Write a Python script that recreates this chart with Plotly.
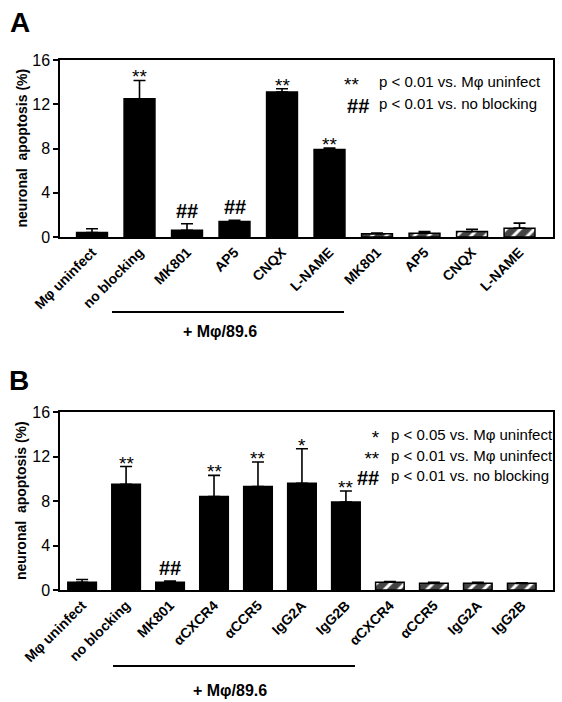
import plotly.graph_objects as go

# ---------------- data ----------------
a_labels = ["Mφ uninfect", "no blocking", "MK801", "AP5", "CNQX", "L-NAME",
            "MK801", "AP5", "CNQX", "L-NAME"]
a_values = [0.4, 12.5, 0.6, 1.4, 13.1, 7.9, 0.3, 0.35, 0.5, 0.8]
a_errors = [0.35, 1.65, 0.6, 0.1, 0.3, 0.15, 0.05, 0.15, 0.2, 0.45]
a_hatched = [False, False, False, False, False, False, True, True, True, True]
a_marks = ["", "**", "##", "##", "**", "**", "", "", "", ""]

b_labels = ["Mφ uninfect", "no blocking", "MK801", "αCXCR4", "αCCR5", "IgG2A", "IgG2B",
            "αCXCR4", "αCCR5", "IgG2A", "IgG2B"]
b_values = [0.7, 9.5, 0.7, 8.4, 9.3, 9.6, 7.9, 0.7, 0.6, 0.6, 0.6]
b_errors = [0.25, 1.6, 0.1, 1.9, 2.2, 3.1, 1.0, 0.05, 0.1, 0.1, 0.05]
b_hatched = [False] * 7 + [True] * 4
b_marks = ["", "**", "##", "**", "**", "*", "**", "", "", "", ""]

y_ticks = [0, 4, 8, 12, 16]
legend_a_syms = ["**\u00a0\u00a0", "##"]
legend_a_text = ["p < 0.01 vs. Mφ uninfect", "p < 0.01 vs. no blocking"]
legend_b_syms = ["*", "**", "##"]
legend_b_text = ["p < 0.05 vs. Mφ uninfect", "p < 0.01 vs. Mφ uninfect",
                 "p < 0.01 vs. no blocking"]
group_label = "+ Mφ/89.6"

# ---------------- layout helpers ----------------
W, H = 562, 702
FONT = "Liberation Sans, Arial, Helvetica, sans-serif"


def px(x):
    return x / W


def py(y):
    return 1 - y / H


fig = go.Figure()

STAR_FONT = dict(size=19, family=FONT, color="black")
HASH_FONT = dict(size=20, family=FONT, color="black", weight="bold")


def add_panel(labels, values, errors, hatched, marks, xa, ya):
    idx = list(range(len(labels)))
    fig.add_trace(go.Bar(
        x=idx, y=values,
        xaxis=xa, yaxis=ya,
        width=0.65,
        marker=dict(
            color=["white" if h else "black" for h in hatched],
            line=dict(color="black", width=1.5),
            pattern=dict(shape=["/" if h else "" for h in hatched],
                         fgcolor="black", bgcolor="white", fgopacity=1,
                         size=10, solidity=0.7),
        ),
        error_y=dict(type="data", symmetric=False, array=errors,
                     arrayminus=[0] * len(errors), color="black",
                     thickness=1.6, width=6),
        showlegend=False,
    ))
    xref = "x" if xa == "x" else "x2"
    yref = "y" if ya == "y" else "y2"
    for i, (v, e, m) in enumerate(zip(values, errors, marks)):
        if not m:
            continue
        if m.startswith("#"):
            fig.add_annotation(x=i, y=v + e, xref=xref, yref=yref, text="<b>" + m + "</b>",
                               showarrow=False, xanchor="center", yanchor="bottom", yshift=0,
                               font=HASH_FONT)
        else:
            fig.add_annotation(x=i, y=v + e, xref=xref, yref=yref, text=m,
                               showarrow=False, xanchor="center", yanchor="bottom", yshift=-9,
                               font=STAR_FONT)


add_panel(a_labels, a_values, a_errors, a_hatched, a_marks, "x", "y")
add_panel(b_labels, b_values, b_errors, b_hatched, b_marks, "x2", "y2")

axis_common = dict(showgrid=False, zeroline=False, showline=True, linecolor="black",
                   linewidth=1.5, mirror=True)
xa_common = dict(axis_common, ticks="", tickangle=-45, automargin=False,
                 tickfont=dict(size=14, family=FONT, color="black", weight="bold"))
ya_common = dict(axis_common, ticks="outside", ticklen=5, tickwidth=1.5, tickcolor="black",
                 tickvals=y_ticks, range=[0, 16], automargin=False,
                 tickfont=dict(size=16, family=FONT, color="black"))

fig.update_layout(
    width=W, height=H,
    margin=dict(l=0, r=0, t=0, b=0),
    paper_bgcolor="white", plot_bgcolor="white",
    bargap=0.35,
    xaxis=dict(xa_common, domain=[px(60), px(553)], range=[-0.674, 9.705], anchor="y",
               tickvals=list(range(len(a_labels))), ticktext=a_labels),
    yaxis=dict(ya_common, domain=[py(237), py(60)], anchor="x"),
    xaxis2=dict(xa_common, domain=[px(60), px(553)], range=[-0.503, 10.71], anchor="y2",
                tickvals=list(range(len(b_labels))), ticktext=b_labels),
    yaxis2=dict(ya_common, domain=[py(590), py(412)], anchor="x2"),
)

# y-axis titles
for yc in [(60 + 237) / 2, (412 + 590) / 2]:
    fig.add_annotation(x=px(21), y=py(yc), xref="paper", yref="paper",
                       text="<b>neuronal  apoptosis (%)</b>", textangle=-90,
                       xanchor="center", yanchor="middle",
                       showarrow=False, font=dict(size=14, family=FONT, color="black"))

# panel letters
fig.add_annotation(x=px(20), y=py(23), xref="paper", yref="paper", text="<b>A</b>",
                   xanchor="center", yanchor="middle",
                   showarrow=False, font=dict(size=28, family=FONT, color="black"))
fig.add_annotation(x=px(19), y=py(381), xref="paper", yref="paper", text="<b>B</b>",
                   xanchor="center", yanchor="middle",
                   showarrow=False, font=dict(size=28, family=FONT, color="black"))


# significance legends (one multi-line text per column)
def sym_html(s):
    if s.startswith("#"):
        return "<b><span style='font-size:20px'>" + s + "</span></b>"
    return "<span style='font-size:19px'>" + s + "</span>"


def add_legend(syms, texts, sym_right, text_left, y_mid, spacing):
    base = spacing / 1.3
    fig.add_annotation(x=px(sym_right), y=py(y_mid), xref="paper", yref="paper",
                       text="<br>".join(sym_html(s) for s in syms), align="right",
                       showarrow=False, xanchor="right", yanchor="middle", yshift=-3,
                       font=dict(size=base, family=FONT, color="black"))
    fig.add_annotation(x=px(text_left), y=py(y_mid), xref="paper", yref="paper",
                       text="<br>".join("<span style='font-size:15px'>" + t + "</span>"
                                        for t in texts),
                       align="left", showarrow=False, xanchor="left", yanchor="middle",
                       font=dict(size=base, family=FONT, color="black"))


add_legend(legend_a_syms, legend_a_text, 371, 377, 93, 22)
add_legend(legend_b_syms, legend_b_text, 382, 389, 454.5, 20.5)

# group brackets
for (x0, x1, yl), (tx, ty) in [((112, 344, 312), (220, 332)), ((113, 355, 666), (230, 690))]:
    fig.add_shape(type="line", xref="paper", yref="paper", x0=px(x0), x1=px(x1),
                  y0=py(yl), y1=py(yl), line=dict(color="black", width=2))
    fig.add_annotation(x=px(tx), y=py(ty), xref="paper", yref="paper",
                       text="<b>" + group_label + "</b>", showarrow=False,
                       xanchor="center", yanchor="middle",
                       font=dict(size=16, family=FONT, color="black"))

fig.write_html("out.html", config={"displayModeBar": False},
               post_script="document.body.style.margin='0px';document.body.style.overflow='hidden';")
